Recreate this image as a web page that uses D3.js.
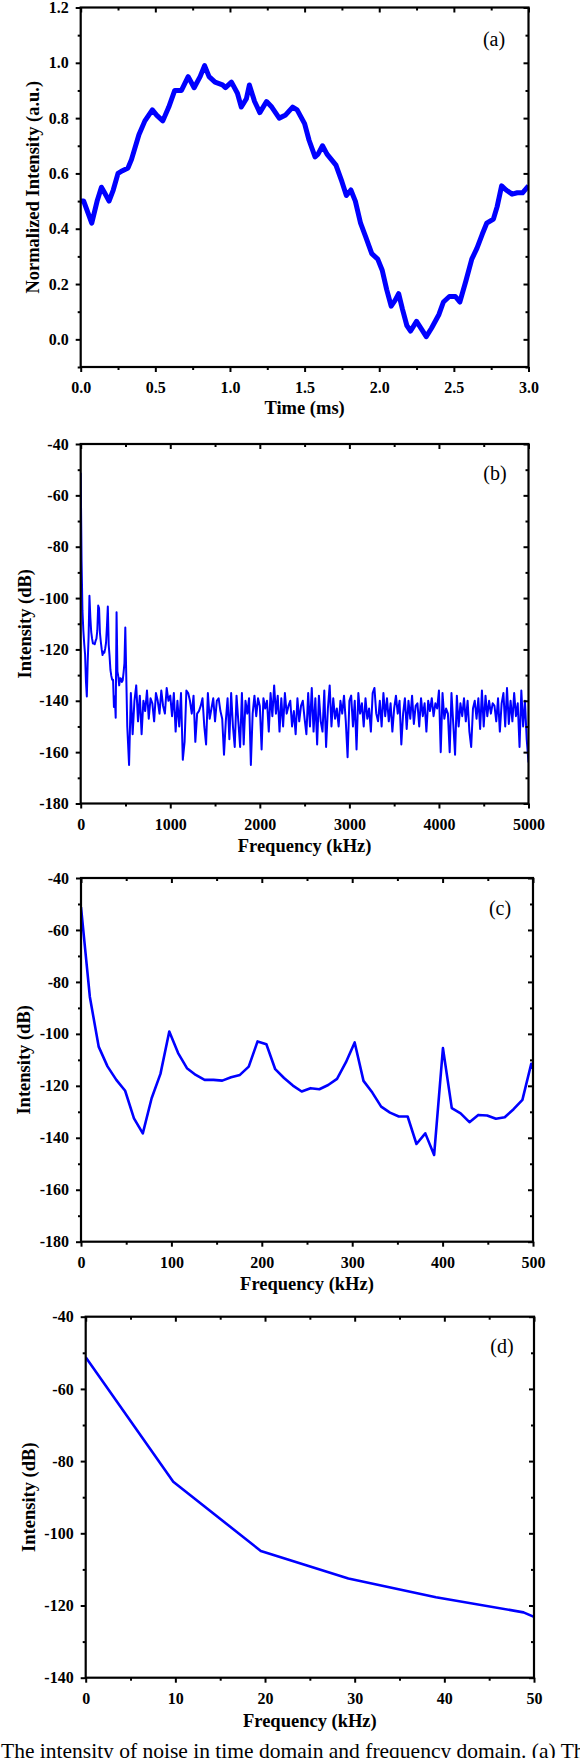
<!DOCTYPE html>
<html>
<head>
<meta charset="utf-8">
<script src="https://cdn.jsdelivr.net/npm/d3@7"></script>
<style>
body { margin: 0; background: #fff; }
text { font-family: "Liberation Serif", "Times New Roman", serif; }
</style>
</head>
<body>
<script>

// (a) time domain
let timeMs = [0, 0.02, 0.074, 0.11, 0.139, 0.16, 0.19, 0.218, 0.25, 0.28, 0.317, 0.34, 0.39, 0.43, 0.48, 0.51, 0.55, 0.59, 0.63, 0.675,
	0.72, 0.76, 0.80, 0.83, 0.86, 0.90, 0.95, 0.97, 1.01, 1.05, 1.076, 1.11, 1.13, 1.165, 1.20, 1.245, 1.28, 1.33, 1.37, 1.42,
	1.45, 1.50, 1.53, 1.57, 1.59, 1.62, 1.65, 1.68, 1.71, 1.75, 1.78, 1.81, 1.84, 1.875, 1.91, 1.95, 1.99, 2.02, 2.05, 2.08,
	2.105, 2.13, 2.155, 2.185, 2.21, 2.25, 2.28, 2.315, 2.35, 2.40, 2.43, 2.47, 2.51, 2.54, 2.58, 2.62, 2.655, 2.69, 2.72, 2.765,
	2.79, 2.82, 2.85, 2.89, 2.925, 2.96, 3.0];
let normInt = [0.50, 0.50, 0.42, 0.50, 0.55, 0.53, 0.50, 0.54, 0.60, 0.61, 0.62, 0.65, 0.74, 0.79, 0.83, 0.81, 0.79, 0.84, 0.90, 0.90,
	0.95, 0.91, 0.95, 0.99, 0.95, 0.93, 0.92, 0.91, 0.93, 0.89, 0.84, 0.87, 0.92, 0.86, 0.82, 0.86, 0.84, 0.80, 0.81, 0.84,
	0.83, 0.78, 0.72, 0.66, 0.67, 0.70, 0.67, 0.65, 0.63, 0.57, 0.52, 0.54, 0.50, 0.42, 0.37, 0.31, 0.29, 0.25, 0.18, 0.12,
	0.14, 0.165, 0.11, 0.05, 0.03, 0.065, 0.04, 0.01, 0.04, 0.09, 0.135, 0.155, 0.155, 0.135, 0.21, 0.29, 0.33, 0.38, 0.42, 0.435,
	0.48, 0.555, 0.54, 0.525, 0.53, 0.53, 0.555];

// spectrum, FFT bins of 5000/512 kHz, first bins (0..500 kHz)
let binKHz = 5000 / 512;
let specLow = [-51.2, -85.7, -104.9, -112.5, -117.7, -121.9, -132.5, -138.3, -124.8, -115.4,
	-99.1, -107.4, -113.2, -115.8, -117.7, -117.7, -118.0, -116.7, -115.8, -112.6,
	-102.9, -104.0, -113.6, -117.0, -119.9, -122.2, -120.9, -121.3, -119.7, -117.3,
	-111.0, -103.3, -118.1, -122.6, -128.0, -130.3, -131.8, -131.8, -142.4, -138.3,
	-146.6, -105.5, -128.6, -130.6, -134.0, -131.2, -131.4, -132.7, -132.1, -129.0,
	-125.4, -111.5, -120.0];

// noise floor above 500 kHz, read every 20 kHz
let noiseStart = 520, noiseStep = 20;
let noiseDb = [
	-150, -165, -137, -153, -140, -134, -148, -138, -153, -140, -144, -136, -147, -139, -141, -148, -137, -140, -145, -136, -142, -145, -135, -140, -138,
	-146, -137, -152, -140, -150, -137, -163, -156, -136, -137, -140, -145, -138, -156, -145, -144, -142, -139, -150, -157, -137, -147, -143, -139, -148,
	-140, -139, -144, -147, -161, -148, -139, -155, -137, -150, -158, -138, -148, -158, -137, -157, -140, -145, -139, -165, -145, -138, -146, -139, -142,
	-159, -139, -143, -140, -152, -137, -146, -134, -145, -138, -152, -139, -150, -137, -145, -142, -140, -150, -144, -153, -139, -148, -142, -140, -147,
	-153, -137, -150, -135, -152, -139, -157, -138, -148, -152, -136, -158, -143, -134, -150, -139, -147, -143, -150, -140, -145, -138, -148, -162, -140,
	-138, -150, -140, -159, -137, -145, -141, -150, -139, -147, -143, -152, -137, -135, -145, -148, -140, -150, -137, -146, -139, -148, -141, -152, -143,
	-138, -145, -140, -157, -145, -139, -151, -140, -147, -138, -149, -142, -141, -150, -139, -146, -141, -152, -140, -144, -139, -146, -141, -143, -136,
	-160, -137, -147, -143, -145, -160, -137, -149, -161, -138, -150, -141, -146, -139, -148, -140, -152, -158, -143, -140, -147, -139, -151, -136, -150,
	-138, -146, -140, -145, -141, -142, -148, -139, -152, -141, -137, -150, -135, -149, -140, -148, -137, -146, -141, -158, -136, -150, -140, -155, -164];

let ticksA_x = [0, 0.5, 1.0, 1.5, 2.0, 2.5, 3.0];
let ticksA_y = [0, 0.2, 0.4, 0.6, 0.8, 1.0, 1.2];
let ticksB_x = [0, 1000, 2000, 3000, 4000, 5000];
let ticksC_x = [0, 100, 200, 300, 400, 500];
let ticksD_x = [0, 10, 20, 30, 40, 50];
let ticksDb = [-180, -160, -140, -120, -100, -80, -60, -40];
let ticksDbD = [-140, -120, -100, -80, -60, -40];

let caption = "The intensity of noise in time domain and frequency domain. (a) The";

let svg = d3.select("body").append("svg")
	.attr("width", 580)
	.attr("height", 1758);

let blue = "#0000ff";

let specAll = specLow.map((v, i) => [i * binKHz, v]);
let specFull = specAll.slice(0, 52).concat(noiseDb.map((v, i) => [noiseStart + i * noiseStep, v]));

function halves(t) {
	// minor ticks halfway between majors
	let out = [];
	for (let i = 0; i < t.length - 1; i++) out.push((t[i] + t[i + 1]) / 2);
	return out;
}

function fmt1(d) { return d.toFixed(1); }
function fmt0(d) { return d.toString(); }

function drawPanel(p) {
	let x = d3.scaleLinear().domain(p.xDomain).range([p.left, p.right]);
	let y = d3.scaleLinear().domain(p.yDomain).range([p.bottom, p.top]);
	let g = svg.append("g");

	svg.append("clipPath").attr("id", "clip" + p.tag)
		.append("rect")
		.attr("x", p.left).attr("y", p.top)
		.attr("width", p.right - p.left).attr("height", p.bottom - p.top);

	let line = d3.line().x(d => x(d[0])).y(d => y(d[1]));
	g.append("path")
		.datum(p.data)
		.attr("clip-path", "url(#clip" + p.tag + ")")
		.attr("d", line)
		.attr("fill", "none")
		.attr("stroke", blue)
		.attr("stroke-width", p.lw)
		.attr("stroke-linejoin", "round");

	let xMinor = halves(p.xTicks), yMinor = halves(p.yTicks);
	if (p.yTicks[0] > p.yDomain[0]) yMinor.unshift(p.yTicks[0] - (p.yTicks[1] - p.yTicks[0]) / 2);

	// bottom + left: labelled, ticks outward
	let gb = g.append("g").attr("transform", "translate(0," + p.bottom + ")")
		.call(d3.axisBottom(x).tickValues(p.xTicks).tickSize(5).tickPadding(10).tickFormat(p.xFmt));
	g.append("g").attr("transform", "translate(0," + p.bottom + ")")
		.call(d3.axisBottom(x).tickValues(xMinor).tickSize(3).tickFormat(""));
	let gl = g.append("g").attr("transform", "translate(" + p.left + ",0)")
		.call(d3.axisLeft(y).tickValues(p.yTicks).tickSize(5).tickPadding(7).tickFormat(p.yFmt));
	g.append("g").attr("transform", "translate(" + p.left + ",0)")
		.call(d3.axisLeft(y).tickValues(yMinor).tickSize(3).tickFormat(""));

	// top + right: ticks inward
	g.append("g").attr("transform", "translate(0," + p.top + ")")
		.call(d3.axisBottom(x).tickValues(p.xTicks).tickSize(5).tickFormat(""));
	g.append("g").attr("transform", "translate(0," + p.top + ")")
		.call(d3.axisBottom(x).tickValues(xMinor).tickSize(3).tickFormat(""));
	g.append("g").attr("transform", "translate(" + p.right + ",0)")
		.call(d3.axisLeft(y).tickValues(p.yTicks).tickSize(5).tickFormat(""));
	g.append("g").attr("transform", "translate(" + p.right + ",0)")
		.call(d3.axisLeft(y).tickValues(yMinor).tickSize(3).tickFormat(""));

	g.selectAll(".domain").remove();
	g.selectAll(".tick line").attr("stroke", "#000").attr("stroke-width", 2);
	[gb, gl].forEach(a => a
		.attr("font-family", null)
		.attr("font-size", 16)
		.attr("font-weight", "bold"));
	g.selectAll(".tick text").attr("fill", "#000");

	g.append("rect")
		.attr("x", p.left).attr("y", p.top)
		.attr("width", p.right - p.left).attr("height", p.bottom - p.top)
		.attr("fill", "none")
		.attr("stroke", "#000")
		.attr("stroke-width", 2.2);

	g.append("text")
		.attr("x", (p.left + p.right) / 2)
		.attr("y", p.xTitleY)
		.attr("text-anchor", "middle")
		.attr("font-size", 18.5)
		.attr("font-weight", "bold")
		.text(p.xTitle);

	g.append("text")
		.attr("transform", "translate(" + p.yTitleX + "," + (p.top + p.bottom) / 2 + ") rotate(-90)")
		.attr("text-anchor", "middle")
		.attr("font-size", 18.5)
		.attr("font-weight", "bold")
		.text(p.yTitle);

	g.append("text")
		.attr("x", p.tagX)
		.attr("y", p.tagY)
		.attr("text-anchor", "middle")
		.attr("font-size", 20)
		.text("(" + p.tag + ")");
}

drawPanel({
	tag: "a", data: timeMs.map((t, i) => [t, normInt[i]]), lw: 5,
	left: 80.7, right: 528.5, top: 7.5, bottom: 367,
	xDomain: [0, 3], yDomain: [-0.1, 1.2], xTicks: ticksA_x, yTicks: ticksA_y,
	xFmt: fmt1, yFmt: fmt1,
	xTitle: "Time (ms)", xTitleY: 414, yTitle: "Normalized Intensity (a.u.)", yTitleX: 39,
	tagX: 494, tagY: 46
});

drawPanel({
	tag: "b", data: specFull, lw: 2,
	left: 80.7, right: 528.5, top: 444, bottom: 803.5,
	xDomain: [0, 5000], yDomain: [-180, -40], xTicks: ticksB_x, yTicks: ticksDb,
	xFmt: fmt0, yFmt: fmt0,
	xTitle: "Frequency (kHz)", xTitleY: 852, yTitle: "Intensity (dB)", yTitleX: 31,
	tagX: 495, tagY: 480
});

drawPanel({
	tag: "c", data: specAll, lw: 2.6,
	left: 81, right: 533, top: 878, bottom: 1241.7,
	xDomain: [0, 500], yDomain: [-180, -40], xTicks: ticksC_x, yTicks: ticksDb,
	xFmt: fmt0, yFmt: fmt0,
	xTitle: "Frequency (kHz)", xTitleY: 1290, yTitle: "Intensity (dB)", yTitleX: 30,
	tagX: 500, tagY: 915
});

drawPanel({
	tag: "d", data: specAll, lw: 2.6,
	left: 85.7, right: 534, top: 1316.7, bottom: 1677.7,
	xDomain: [0, 50], yDomain: [-140, -40], xTicks: ticksD_x, yTicks: ticksDbD,
	xFmt: fmt0, yFmt: fmt0,
	xTitle: "Frequency (kHz)", xTitleY: 1727, yTitle: "Intensity (dB)", yTitleX: 35,
	tagX: 502, tagY: 1353
});

svg.append("text")
	.attr("x", 1)
	.attr("y", 1758)
	.attr("font-size", 21.5)
	.text(caption);

</script>
</body>
</html>
